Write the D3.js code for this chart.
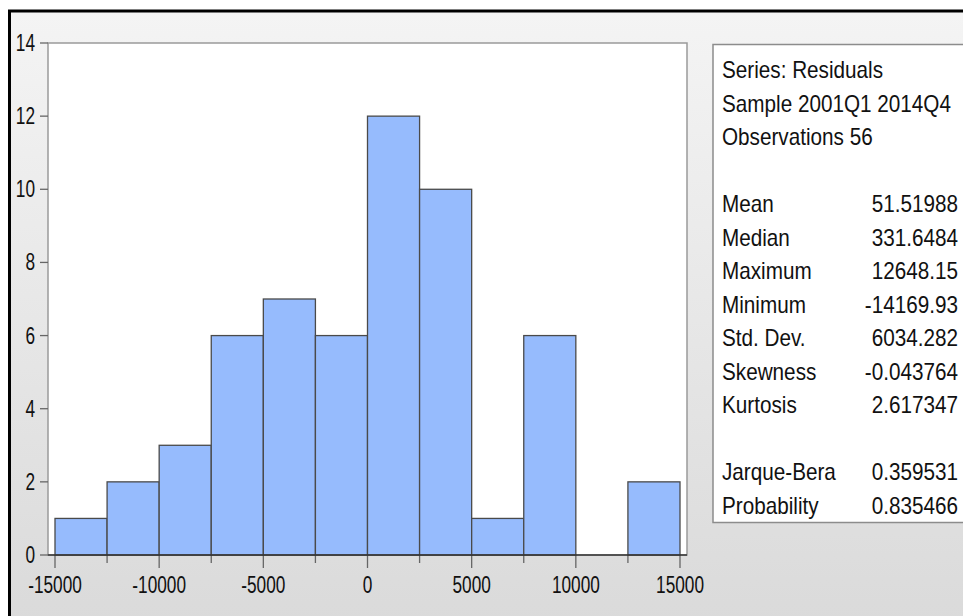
<!DOCTYPE html>
<html>
<head>
<meta charset="utf-8">
<script src="https://cdn.jsdelivr.net/npm/d3@7"></script>
<style>
  html, body { margin: 0; padding: 0; background: #ffffff; }
  svg { display: block; }
  text { font-family: "Liberation Sans", Arial, "DejaVu Sans", sans-serif; fill: #111; }
</style>
</head>
<body>
<svg id="chart" width="963" height="616"></svg>
<script>
// Residual histogram: bins of width 2500 from -15000 to 15000
const binLower = [-15000, -12500, -10000, -7500, -5000, -2500, 0, 2500, 5000, 7500, 10000, 12500];
const binWidth = 2500;
const counts = [1, 2, 3, 6, 7, 6, 12, 10, 1, 6, 0, 2];

const xTicksMajor = [-15000, -10000, -5000, 0, 5000, 10000, 15000];
const xTicksMinor = [-12500, -7500, -2500, 2500, 7500, 12500];
const yTicks = [0, 2, 4, 6, 8, 10, 12, 14];

// Descriptive statistics panel
const headerLines = ["Series: Residuals", "Sample 2001Q1 2014Q4", "Observations 56"];
const statNames = ["Mean", "Median", "Maximum", "Minimum", "Std. Dev.", "Skewness", "Kurtosis"];
const statValues = ["51.51988", "331.6484", "12648.15", "-14169.93", "6034.282", "-0.043764", "2.617347"];
const testNames = ["Jarque-Bera", "Probability"];
const testValues = ["0.359531", "0.835466"];

const svg = d3.select("#chart");

// window background with gradient and dark frame
const defs = svg.append("defs");
const grad = defs.append("linearGradient").attr("id", "bg").attr("x1", 0).attr("y1", 0).attr("x2", 0).attr("y2", 1);
grad.append("stop").attr("offset", "0%").attr("stop-color", "#f4f4f4");
grad.append("stop").attr("offset", "100%").attr("stop-color", "#d9d9d9");

svg.append("rect").attr("x", 0).attr("y", 0).attr("width", 963).attr("height", 616).attr("fill", "#ffffff");
svg.append("rect").attr("x", 9.5).attr("y", 11).attr("width", 980).attr("height", 640)
  .attr("fill", "url(#bg)").attr("stroke", "#000").attr("stroke-width", 3);

// plot frame
const frame = { left: 48, right: 687, top: 43, bottom: 555 };
const x = d3.scaleLinear().domain([-15000, 15000]).range([55, 680]);
const y = d3.scaleLinear().domain([0, 14]).range([frame.bottom, frame.top]);

svg.append("rect")
  .attr("x", frame.left).attr("y", frame.top)
  .attr("width", frame.right - frame.left).attr("height", frame.bottom - frame.top)
  .attr("fill", "#ffffff").attr("stroke", "#9a9a9a").attr("stroke-width", 1.5);

// x ticks (major and minor) below the frame, y ticks left of it
const tickG = svg.append("g").attr("stroke", "#666").attr("stroke-width", 1.3);
tickG.selectAll("line.major").data(xTicksMajor).join("line")
  .attr("class", "major")
  .attr("x1", d => x(d)).attr("x2", d => x(d))
  .attr("y1", frame.bottom).attr("y2", frame.bottom + 13);
tickG.selectAll("line.minor").data(xTicksMinor).join("line")
  .attr("class", "minor")
  .attr("x1", d => x(d)).attr("x2", d => x(d))
  .attr("y1", frame.bottom).attr("y2", frame.bottom + 8);
tickG.selectAll("line.ytick").data(yTicks).join("line")
  .attr("class", "ytick")
  .attr("x1", frame.left - 8).attr("x2", frame.left)
  .attr("y1", d => y(d)).attr("y2", d => y(d));

// histogram bars
svg.append("g").selectAll("rect").data(binLower.map((b, i) => ({ lo: b, n: counts[i] })).filter(d => d.n > 0))
  .join("rect")
  .attr("x", d => x(d.lo))
  .attr("y", d => y(d.n))
  .attr("width", d => x(d.lo + binWidth) - x(d.lo))
  .attr("height", d => y(0) - y(d.n))
  .attr("fill", "#96bbfd")
  .attr("stroke", "#4a4a4a")
  .attr("stroke-width", 1.3);

// baseline
svg.append("line")
  .attr("x1", frame.left).attr("x2", frame.right)
  .attr("y1", frame.bottom).attr("y2", frame.bottom)
  .attr("stroke", "#333").attr("stroke-width", 1.5);

// axis labels (narrow digits)
const axisFont = 23, axisSqueeze = 0.75;
svg.append("g").selectAll("text").data(yTicks).join("text")
  .attr("transform", d => `translate(35,${y(d) + 8}) scale(${axisSqueeze},1)`)
  .attr("text-anchor", "end")
  .attr("font-size", axisFont)
  .text(d => d);
svg.append("g").selectAll("text").data(xTicksMajor).join("text")
  .attr("transform", d => `translate(${x(d)},593) scale(${axisSqueeze},1)`)
  .attr("text-anchor", "middle")
  .attr("font-size", axisFont)
  .text(d => d);

// statistics box
svg.append("rect")
  .attr("x", 713).attr("y", 44.5).attr("width", 300).attr("height", 478)
  .attr("fill", "#ffffff").attr("stroke", "#8c8c8c").attr("stroke-width", 1.5);

const statFont = 23, statSqueeze = 0.9, lineH = 33.5, textLeft = 722, textRight = 958;
const rows = [];
headerLines.forEach((t, i) => rows.push({ label: t, value: null, line: i }));
statNames.forEach((t, i) => rows.push({ label: t, value: statValues[i], line: 4 + i }));
testNames.forEach((t, i) => rows.push({ label: t, value: testValues[i], line: 12 + i }));

const statG = svg.append("g");
statG.selectAll("text.lab").data(rows).join("text")
  .attr("class", "lab")
  .attr("transform", d => `translate(${textLeft},${78 + d.line * lineH}) scale(${statSqueeze},1)`)
  .attr("font-size", statFont)
  .text(d => d.label);
statG.selectAll("text.val").data(rows.filter(d => d.value !== null)).join("text")
  .attr("class", "val")
  .attr("transform", d => `translate(${textRight},${78 + d.line * lineH}) scale(${statSqueeze},1)`)
  .attr("text-anchor", "end")
  .attr("font-size", statFont)
  .text(d => d.value);
</script>
</body>
</html>
